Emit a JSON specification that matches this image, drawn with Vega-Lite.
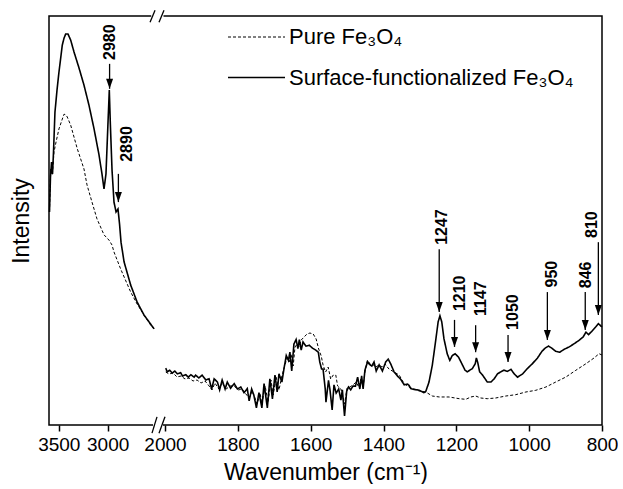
{
  "$schema": "https://vega.github.io/schema/vega-lite/v6.json",
  "width": 553,
  "height": 409,
  "padding": {"left": 10, "top": 8, "right": 0, "bottom": 0},
  "background": "white",
  "config": {
    "font": "Liberation Sans",
    "view": {"stroke": "black", "strokeWidth": 1.5},
    "axis": {"grid": false, "labelColor": "black", "titleColor": "black", "titleFontWeight": "normal"}
  },
  "layer": [
    {
      "data": {"values": [
        {"series":"func","seg":"L","wn":3595,"I":52.1},{"series":"func","seg":"L","wn":3585,"I":60.6},{"series":"func","seg":"L","wn":3574,"I":64.3},{"series":"func","seg":"L","wn":3564,"I":61.4},{"series":"func","seg":"L","wn":3554,"I":66.7},{"series":"func","seg":"L","wn":3539,"I":76.5},{"series":"func","seg":"L","wn":3518,"I":81.9},{"series":"func","seg":"L","wn":3498,"I":86.3},{"series":"func","seg":"L","wn":3464,"I":92.9},{"series":"func","seg":"L","wn":3446,"I":94.6},{"series":"func","seg":"L","wn":3429,"I":95.6},{"series":"func","seg":"L","wn":3406,"I":95.6},{"series":"func","seg":"L","wn":3378,"I":94.1},{"series":"func","seg":"L","wn":3344,"I":91.2},{"series":"func","seg":"L","wn":3293,"I":87.3},{"series":"func","seg":"L","wn":3242,"I":83.1},{"series":"func","seg":"L","wn":3191,"I":78.2},{"series":"func","seg":"L","wn":3139,"I":72.4},{"series":"func","seg":"L","wn":3088,"I":66.0},{"series":"func","seg":"L","wn":3058,"I":61.4},{"series":"func","seg":"L","wn":3037,"I":57.7},{"series":"func","seg":"L","wn":3017,"I":61.4},{"series":"func","seg":"L","wn":2996,"I":74.1},{"series":"func","seg":"L","wn":2983,"I":81.9},{"series":"func","seg":"L","wn":2973,"I":74.1},{"series":"func","seg":"L","wn":2955,"I":62.3},{"series":"func","seg":"L","wn":2935,"I":54.5},{"series":"func","seg":"L","wn":2914,"I":52.1},{"series":"func","seg":"L","wn":2894,"I":52.8},{"series":"func","seg":"L","wn":2878,"I":49.1},{"series":"func","seg":"L","wn":2863,"I":44.7},{"series":"func","seg":"L","wn":2832,"I":39.9},{"series":"func","seg":"L","wn":2764,"I":34.2},{"series":"func","seg":"L","wn":2699,"I":30.1},{"series":"func","seg":"L","wn":2628,"I":26.9},{"series":"func","seg":"L","wn":2576,"I":25.2},{"series":"func","seg":"L","wn":2525,"I":23.5},
        {"series":"pure","seg":"L","wn":3595,"I":52.1},{"series":"pure","seg":"L","wn":3583,"I":62.6},{"series":"pure","seg":"L","wn":3566,"I":61.1},{"series":"pure","seg":"L","wn":3549,"I":66.7},{"series":"pure","seg":"L","wn":3528,"I":69.2},{"series":"pure","seg":"L","wn":3498,"I":72.4},{"series":"pure","seg":"L","wn":3464,"I":74.8},{"series":"pure","seg":"L","wn":3446,"I":76.0},{"series":"pure","seg":"L","wn":3426,"I":75.8},{"series":"pure","seg":"L","wn":3413,"I":75.3},{"series":"pure","seg":"L","wn":3378,"I":73.3},{"series":"pure","seg":"L","wn":3310,"I":67.5},{"series":"pure","seg":"L","wn":3242,"I":62.6},{"series":"pure","seg":"L","wn":3211,"I":58.7},{"series":"pure","seg":"L","wn":3160,"I":54.5},{"series":"pure","seg":"L","wn":3109,"I":50.4},{"series":"pure","seg":"L","wn":3037,"I":46.5},{"series":"pure","seg":"L","wn":2986,"I":45.2},{"series":"pure","seg":"L","wn":2955,"I":44.0},{"series":"pure","seg":"L","wn":2935,"I":42.3},{"series":"pure","seg":"L","wn":2866,"I":38.1},{"series":"pure","seg":"L","wn":2764,"I":32.5},{"series":"pure","seg":"L","wn":2699,"I":29.6},{"series":"pure","seg":"L","wn":2628,"I":26.9},{"series":"pure","seg":"L","wn":2559,"I":24.4},{"series":"pure","seg":"L","wn":2525,"I":23.5},
        {"series":"func","seg":"R","wn":1998,"I":13.9},{"series":"func","seg":"R","wn":1994,"I":13.0},{"series":"func","seg":"R","wn":1987,"I":13.4},{"series":"func","seg":"R","wn":1980,"I":12.7},{"series":"func","seg":"R","wn":1973,"I":13.2},{"series":"func","seg":"R","wn":1966,"I":12.5},{"series":"func","seg":"R","wn":1957,"I":12.8},{"series":"func","seg":"R","wn":1952,"I":12.0},{"series":"func","seg":"R","wn":1943,"I":12.3},{"series":"func","seg":"R","wn":1936,"I":11.7},{"series":"func","seg":"R","wn":1929,"I":12.3},{"series":"func","seg":"R","wn":1920,"I":11.7},{"series":"func","seg":"R","wn":1916,"I":12.2},{"series":"func","seg":"R","wn":1907,"I":11.5},{"series":"func","seg":"R","wn":1898,"I":12.2},{"series":"func","seg":"R","wn":1888,"I":11.0},{"series":"func","seg":"R","wn":1879,"I":11.3},{"series":"func","seg":"R","wn":1872,"I":8.8},{"series":"func","seg":"R","wn":1865,"I":11.3},{"series":"func","seg":"R","wn":1856,"I":10.5},{"series":"func","seg":"R","wn":1850,"I":8.6},{"series":"func","seg":"R","wn":1843,"I":11.0},{"series":"func","seg":"R","wn":1835,"I":8.8},{"series":"func","seg":"R","wn":1829,"I":10.5},{"series":"func","seg":"R","wn":1820,"I":9.0},{"series":"func","seg":"R","wn":1810,"I":10.1},{"series":"func","seg":"R","wn":1801,"I":8.8},{"series":"func","seg":"R","wn":1792,"I":9.3},{"series":"func","seg":"R","wn":1783,"I":7.9},{"series":"func","seg":"R","wn":1774,"I":8.9},{"series":"func","seg":"R","wn":1769,"I":5.9},{"series":"func","seg":"R","wn":1762,"I":8.8},{"series":"func","seg":"R","wn":1756,"I":7.3},{"series":"func","seg":"R","wn":1749,"I":4.2},{"series":"func","seg":"R","wn":1742,"I":7.9},{"series":"func","seg":"R","wn":1734,"I":4.2},{"series":"func","seg":"R","wn":1728,"I":10.1},{"series":"func","seg":"R","wn":1719,"I":4.2},{"series":"func","seg":"R","wn":1712,"I":11.3},{"series":"func","seg":"R","wn":1705,"I":6.4},{"series":"func","seg":"R","wn":1698,"I":12.2},{"series":"func","seg":"R","wn":1692,"I":8.1},{"series":"func","seg":"R","wn":1687,"I":12.5},{"series":"func","seg":"R","wn":1679,"I":10.5},{"series":"func","seg":"R","wn":1673,"I":13.9},{"series":"func","seg":"R","wn":1667,"I":17.0},{"series":"func","seg":"R","wn":1661,"I":15.8},{"series":"func","seg":"R","wn":1657,"I":17.8},{"series":"func","seg":"R","wn":1652,"I":13.2},{"series":"func","seg":"R","wn":1646,"I":19.8},{"series":"func","seg":"R","wn":1640,"I":20.9},{"series":"func","seg":"R","wn":1635,"I":18.7},{"series":"func","seg":"R","wn":1631,"I":20.9},{"series":"func","seg":"R","wn":1626,"I":18.3},{"series":"func","seg":"R","wn":1621,"I":20.3},{"series":"func","seg":"R","wn":1613,"I":19.3},{"series":"func","seg":"R","wn":1604,"I":19.5},{"series":"func","seg":"R","wn":1595,"I":18.8},{"series":"func","seg":"R","wn":1586,"I":18.3},{"series":"func","seg":"R","wn":1579,"I":17.8},{"series":"func","seg":"R","wn":1575,"I":15.4},{"series":"func","seg":"R","wn":1570,"I":13.7},{"series":"func","seg":"R","wn":1566,"I":13.7},{"series":"func","seg":"R","wn":1560,"I":8.8},{"series":"func","seg":"R","wn":1558,"I":5.6},{"series":"func","seg":"R","wn":1551,"I":10.9},{"series":"func","seg":"R","wn":1547,"I":8.6},{"series":"func","seg":"R","wn":1541,"I":3.7},{"series":"func","seg":"R","wn":1536,"I":9.8},{"series":"func","seg":"R","wn":1530,"I":7.8},{"series":"func","seg":"R","wn":1523,"I":8.8},{"series":"func","seg":"R","wn":1517,"I":6.1},{"series":"func","seg":"R","wn":1513,"I":8.6},{"series":"func","seg":"R","wn":1507,"I":2.2},{"series":"func","seg":"R","wn":1501,"I":8.3},{"series":"func","seg":"R","wn":1496,"I":9.3},{"series":"func","seg":"R","wn":1490,"I":8.6},{"series":"func","seg":"R","wn":1484,"I":9.5},{"series":"func","seg":"R","wn":1477,"I":9.5},{"series":"func","seg":"R","wn":1471,"I":11.7},{"series":"func","seg":"R","wn":1465,"I":8.8},{"series":"func","seg":"R","wn":1460,"I":12.0},{"series":"func","seg":"R","wn":1456,"I":8.8},{"series":"func","seg":"R","wn":1451,"I":13.4},{"series":"func","seg":"R","wn":1444,"I":15.4},{"series":"func","seg":"R","wn":1438,"I":14.8},{"series":"func","seg":"R","wn":1432,"I":14.4},{"series":"func","seg":"R","wn":1426,"I":15.4},{"series":"func","seg":"R","wn":1420,"I":13.2},{"series":"func","seg":"R","wn":1412,"I":14.7},{"series":"func","seg":"R","wn":1403,"I":13.2},{"series":"func","seg":"R","wn":1394,"I":15.4},{"series":"func","seg":"R","wn":1387,"I":16.1},{"series":"func","seg":"R","wn":1380,"I":14.9},{"series":"func","seg":"R","wn":1371,"I":13.0},{"series":"func","seg":"R","wn":1362,"I":12.0},{"series":"func","seg":"R","wn":1353,"I":11.2},{"series":"func","seg":"R","wn":1343,"I":9.8},{"series":"func","seg":"R","wn":1334,"I":10.0},{"series":"func","seg":"R","wn":1330,"I":9.7},{"series":"func","seg":"R","wn":1325,"I":8.9},{"series":"func","seg":"R","wn":1316,"I":8.7},{"series":"func","seg":"R","wn":1302,"I":8.5},{"series":"func","seg":"R","wn":1289,"I":7.9},{"series":"func","seg":"R","wn":1284,"I":8.2},{"series":"func","seg":"R","wn":1275,"I":10.5},{"series":"func","seg":"R","wn":1266,"I":14.6},{"series":"func","seg":"R","wn":1256,"I":21.1},{"series":"func","seg":"R","wn":1250,"I":25.2},{"series":"func","seg":"R","wn":1245,"I":26.7},{"series":"func","seg":"R","wn":1240,"I":25.2},{"series":"func","seg":"R","wn":1234,"I":21.1},{"series":"func","seg":"R","wn":1225,"I":17.4},{"series":"func","seg":"R","wn":1218,"I":15.8},{"series":"func","seg":"R","wn":1211,"I":17.0},{"series":"func","seg":"R","wn":1203,"I":17.4},{"series":"func","seg":"R","wn":1194,"I":16.6},{"series":"func","seg":"R","wn":1185,"I":15.0},{"series":"func","seg":"R","wn":1176,"I":13.4},{"series":"func","seg":"R","wn":1170,"I":13.0},{"series":"func","seg":"R","wn":1163,"I":13.4},{"series":"func","seg":"R","wn":1156,"I":13.8},{"series":"func","seg":"R","wn":1148,"I":15.0},{"series":"func","seg":"R","wn":1145,"I":16.4},{"series":"func","seg":"R","wn":1141,"I":15.2},{"series":"func","seg":"R","wn":1136,"I":13.0},{"series":"func","seg":"R","wn":1128,"I":12.2},{"series":"func","seg":"R","wn":1121,"I":11.3},{"series":"func","seg":"R","wn":1115,"I":10.5},{"series":"func","seg":"R","wn":1105,"I":10.5},{"series":"func","seg":"R","wn":1096,"I":11.3},{"series":"func","seg":"R","wn":1087,"I":12.5},{"series":"func","seg":"R","wn":1078,"I":13.0},{"series":"func","seg":"R","wn":1069,"I":13.4},{"series":"func","seg":"R","wn":1060,"I":13.1},{"series":"func","seg":"R","wn":1050,"I":13.6},{"series":"func","seg":"R","wn":1041,"I":12.5},{"series":"func","seg":"R","wn":1032,"I":11.7},{"series":"func","seg":"R","wn":1018,"I":12.5},{"series":"func","seg":"R","wn":1005,"I":13.8},{"series":"func","seg":"R","wn":991,"I":15.0},{"series":"func","seg":"R","wn":977,"I":16.4},{"series":"func","seg":"R","wn":965,"I":18.0},{"series":"func","seg":"R","wn":956,"I":18.8},{"series":"func","seg":"R","wn":947,"I":19.3},{"series":"func","seg":"R","wn":938,"I":18.8},{"series":"func","seg":"R","wn":927,"I":18.0},{"series":"func","seg":"R","wn":916,"I":17.8},{"series":"func","seg":"R","wn":904,"I":18.5},{"series":"func","seg":"R","wn":890,"I":19.1},{"series":"func","seg":"R","wn":876,"I":19.9},{"series":"func","seg":"R","wn":863,"I":20.7},{"series":"func","seg":"R","wn":852,"I":21.5},{"series":"func","seg":"R","wn":844,"I":22.7},{"series":"func","seg":"R","wn":837,"I":22.1},{"series":"func","seg":"R","wn":828,"I":22.9},{"series":"func","seg":"R","wn":817,"I":24.0},{"series":"func","seg":"R","wn":810,"I":24.8},{"series":"func","seg":"R","wn":803,"I":24.2},{"series":"func","seg":"R","wn":800,"I":24.0},
        {"series":"pure","seg":"R","wn":1998,"I":12.96},{"series":"pure","seg":"R","wn":1989,"I":12.47},{"series":"pure","seg":"R","wn":1978,"I":12.71},{"series":"pure","seg":"R","wn":1967,"I":11.74},{"series":"pure","seg":"R","wn":1956,"I":11.98},{"series":"pure","seg":"R","wn":1945,"I":11.25},{"series":"pure","seg":"R","wn":1934,"I":11.49},{"series":"pure","seg":"R","wn":1923,"I":10.76},{"series":"pure","seg":"R","wn":1912,"I":11.0},{"series":"pure","seg":"R","wn":1901,"I":10.27},{"series":"pure","seg":"R","wn":1890,"I":10.76},{"series":"pure","seg":"R","wn":1879,"I":9.54},{"series":"pure","seg":"R","wn":1871,"I":8.56},{"series":"pure","seg":"R","wn":1863,"I":10.27},{"series":"pure","seg":"R","wn":1852,"I":8.8},{"series":"pure","seg":"R","wn":1843,"I":10.27},{"series":"pure","seg":"R","wn":1832,"I":8.8},{"series":"pure","seg":"R","wn":1821,"I":9.54},{"series":"pure","seg":"R","wn":1810,"I":9.54},{"series":"pure","seg":"R","wn":1799,"I":8.56},{"series":"pure","seg":"R","wn":1788,"I":8.8},{"series":"pure","seg":"R","wn":1780,"I":7.82},{"series":"pure","seg":"R","wn":1769,"I":6.6},{"series":"pure","seg":"R","wn":1761,"I":8.31},{"series":"pure","seg":"R","wn":1753,"I":6.6},{"series":"pure","seg":"R","wn":1747,"I":5.13},{"series":"pure","seg":"R","wn":1739,"I":7.82},{"series":"pure","seg":"R","wn":1734,"I":5.13},{"series":"pure","seg":"R","wn":1725,"I":9.54},{"series":"pure","seg":"R","wn":1717,"I":5.62},{"series":"pure","seg":"R","wn":1709,"I":11.0},{"series":"pure","seg":"R","wn":1703,"I":7.33},{"series":"pure","seg":"R","wn":1695,"I":11.74},{"series":"pure","seg":"R","wn":1687,"I":8.56},{"series":"pure","seg":"R","wn":1679,"I":11.98},{"series":"pure","seg":"R","wn":1673,"I":13.94},{"series":"pure","seg":"R","wn":1665,"I":16.38},{"series":"pure","seg":"R","wn":1659,"I":15.4},{"series":"pure","seg":"R","wn":1654,"I":17.36},{"series":"pure","seg":"R","wn":1648,"I":14.43},{"series":"pure","seg":"R","wn":1643,"I":19.07},{"series":"pure","seg":"R","wn":1637,"I":19.8},{"series":"pure","seg":"R","wn":1632,"I":19.07},{"series":"pure","seg":"R","wn":1626,"I":20.78},{"series":"pure","seg":"R","wn":1618,"I":21.52},{"series":"pure","seg":"R","wn":1610,"I":22.25},{"series":"pure","seg":"R","wn":1602,"I":22.49},{"series":"pure","seg":"R","wn":1593,"I":22.25},{"series":"pure","seg":"R","wn":1585,"I":21.03},{"series":"pure","seg":"R","wn":1578,"I":18.58},{"series":"pure","seg":"R","wn":1571,"I":16.87},{"series":"pure","seg":"R","wn":1566,"I":14.67},{"series":"pure","seg":"R","wn":1559,"I":12.96},{"series":"pure","seg":"R","wn":1552,"I":14.18},{"series":"pure","seg":"R","wn":1545,"I":11.25},{"series":"pure","seg":"R","wn":1538,"I":12.22},{"series":"pure","seg":"R","wn":1531,"I":12.22},{"series":"pure","seg":"R","wn":1526,"I":9.54},{"series":"pure","seg":"R","wn":1517,"I":8.8},{"series":"pure","seg":"R","wn":1512,"I":7.09},{"series":"pure","seg":"R","wn":1507,"I":5.13},{"series":"pure","seg":"R","wn":1500,"I":9.05},{"series":"pure","seg":"R","wn":1492,"I":9.29},{"series":"pure","seg":"R","wn":1484,"I":9.78},{"series":"pure","seg":"R","wn":1475,"I":10.51},{"series":"pure","seg":"R","wn":1468,"I":9.29},{"series":"pure","seg":"R","wn":1462,"I":11.25},{"series":"pure","seg":"R","wn":1456,"I":9.29},{"series":"pure","seg":"R","wn":1451,"I":12.96},{"series":"pure","seg":"R","wn":1444,"I":15.89},{"series":"pure","seg":"R","wn":1437,"I":14.91},{"series":"pure","seg":"R","wn":1431,"I":14.91},{"series":"pure","seg":"R","wn":1421,"I":14.18},{"series":"pure","seg":"R","wn":1412,"I":14.67},{"series":"pure","seg":"R","wn":1404,"I":14.18},{"series":"pure","seg":"R","wn":1396,"I":14.91},{"series":"pure","seg":"R","wn":1385,"I":13.69},{"series":"pure","seg":"R","wn":1371,"I":12.96},{"series":"pure","seg":"R","wn":1357,"I":12.22},{"series":"pure","seg":"R","wn":1346,"I":10.51},{"series":"pure","seg":"R","wn":1338,"I":9.78},{"series":"pure","seg":"R","wn":1330,"I":9.29},{"series":"pure","seg":"R","wn":1316,"I":8.8},{"series":"pure","seg":"R","wn":1302,"I":8.31},{"series":"pure","seg":"R","wn":1284,"I":8.07},{"series":"pure","seg":"R","wn":1266,"I":7.09},{"series":"pure","seg":"R","wn":1247,"I":6.85},{"series":"pure","seg":"R","wn":1220,"I":6.85},{"series":"pure","seg":"R","wn":1192,"I":6.43},{"series":"pure","seg":"R","wn":1174,"I":6.28},{"series":"pure","seg":"R","wn":1160,"I":6.85},{"series":"pure","seg":"R","wn":1147,"I":7.09},{"series":"pure","seg":"R","wn":1133,"I":6.6},{"series":"pure","seg":"R","wn":1115,"I":6.43},{"series":"pure","seg":"R","wn":1092,"I":6.6},{"series":"pure","seg":"R","wn":1064,"I":7.09},{"series":"pure","seg":"R","wn":1037,"I":7.41},{"series":"pure","seg":"R","wn":1009,"I":8.07},{"series":"pure","seg":"R","wn":982,"I":8.48},{"series":"pure","seg":"R","wn":954,"I":9.29},{"series":"pure","seg":"R","wn":927,"I":10.51},{"series":"pure","seg":"R","wn":899,"I":11.74},{"series":"pure","seg":"R","wn":872,"I":13.37},{"series":"pure","seg":"R","wn":844,"I":14.99},{"series":"pure","seg":"R","wn":822,"I":16.38},{"series":"pure","seg":"R","wn":808,"I":17.43},{"series":"pure","seg":"R","wn":800,"I":17.11}
      ]},
      "mark": {"type": "line", "color": "black", "interpolate": "linear"},
      "encoding": {
        "x": {"field": "wn", "type": "quantitative",
          "scale": {"domain": [3600, 2500, 2000, 800], "range": [0, 107.5, 116, 553], "zero": false, "nice": false},
          "axis": {"title": "Wavenumber (cm⁻¹)", "titleFontSize": 23, "titlePadding": 7,
            "values": [3500, 3250, 3000, 2750, 2000, 1900, 1800, 1700, 1600, 1500, 1400, 1300, 1200, 1100, 1000, 900, 800],
            "format": "d",
            "labelExpr": "indexof([3500,3000,2000,1800,1600,1400,1200,1000,800], datum.value) >= 0 ? datum.label : ''",
            "labelOverlap": false, "labelFontSize": 19, "labelPadding": 4, "labelFlush": false,
            "domain": false, "ticks": true, "tickSize": 6, "tickWidth": 1.5, "tickColor": "black"}},
        "y": {"field": "I", "type": "quantitative",
          "scale": {"domain": [0, 100], "zero": false, "nice": false},
          "axis": {"title": "Intensity", "titleFontSize": 23, "titlePadding": 16, "labels": false, "ticks": false, "domain": false}},
        "detail": {"field": "seg"},
        "strokeDash": {"field": "series", "type": "nominal",
          "scale": {"domain": ["pure", "func"], "range": [[3, 2], [1, 0]]},
          "legend": {"orient": "none", "legendX": 178, "legendY": -8, "title": null, "padding": 0,
            "symbolType": "stroke", "symbolSize": 3249, "symbolStrokeWidth": 1.3, "symbolStrokeColor": "black",
            "labelFontSize": 22, "labelOffset": 3, "labelColor": "black", "labelLimit": 0, "rowPadding": -51,
            "labelExpr": "datum.value == 'pure' ? 'Pure Fe₃O₄' : 'Surface-functionalized Fe₃O₄'"}},
        "strokeWidth": {"field": "series", "type": "nominal",
          "scale": {"domain": ["pure", "func"], "range": [1, 1.6]}, "legend": null}
      }
    },
    {
      "data": {"values": [
        {"x": 2554, "x2": 2088, "y": 100},
        {"x": 2536, "x2": 2118, "y": 0}
      ]},
      "mark": {"type": "rule", "color": "white", "strokeWidth": 4},
      "encoding": {
        "x": {"field": "x", "type": "quantitative"},
        "x2": {"field": "x2"},
        "y": {"field": "y", "type": "quantitative"}
      }
    },
    {
      "data": {"values": [
        {"x": 2566, "y": 98.5, "x2": 2515, "y2": 101.4},
        {"x": 2353, "y": 98.5, "x2": 2059, "y2": 101.4},
        {"x": 2546, "y": -2, "x2": 2471, "y2": 2},
        {"x": 2353, "y": -2, "x2": 2000, "y2": 2}
      ]},
      "mark": {"type": "rule", "color": "black", "strokeWidth": 1.3},
      "encoding": {
        "x": {"field": "x", "type": "quantitative"},
        "x2": {"field": "x2"},
        "y": {"field": "y", "type": "quantitative"},
        "y2": {"field": "y2"}
      }
    },
    {
      "data": {"name": "ann", "values": [
        {"label": "2980", "wn": 2980, "tw": 2980, "ti": 93.6, "top": 88.3, "tip": 82.2},
        {"label": "2890", "wn": 2890, "tw": 2802, "ti": 68.7, "top": 61.4, "tip": 54.5},
        {"label": "1247", "wn": 1247, "tw": 1239, "ti": 48.4, "top": 43.0, "tip": 27.6},
        {"label": "1210", "wn": 1205, "tw": 1190, "ti": 32.2, "top": 25.7, "tip": 19.1},
        {"label": "1147", "wn": 1147, "tw": 1133, "ti": 30.9, "top": 24.4, "tip": 17.8},
        {"label": "1050", "wn": 1058, "tw": 1045, "ti": 27.6, "top": 22.0, "tip": 15.4},
        {"label": "950", "wn": 950, "tw": 937, "ti": 36.9, "top": 32.5, "tip": 20.8},
        {"label": "846", "wn": 846, "tw": 844, "ti": 36.7, "top": 32.5, "tip": 23.2},
        {"label": "810", "wn": 810, "tw": 827, "ti": 49.0, "top": 44.7, "tip": 26.9}
      ]},
      "layer": [
        {
          "mark": {"type": "text", "angle": 270, "align": "center", "baseline": "middle", "fontSize": 16, "fontWeight": "bold", "color": "black"},
          "encoding": {
            "x": {"field": "tw", "type": "quantitative"},
            "y": {"field": "ti", "type": "quantitative"},
            "text": {"field": "label"}
          }
        },
        {
          "mark": {"type": "rule", "color": "black", "strokeWidth": 1.3},
          "encoding": {
            "x": {"field": "wn", "type": "quantitative"},
            "y": {"field": "top", "type": "quantitative"},
            "y2": {"field": "tip"}
          }
        },
        {
          "mark": {"type": "point", "shape": "M-0.7,-2L0.7,-2L0,0Z", "size": 100, "filled": true, "color": "black", "opacity": 1, "strokeWidth": 0},
          "encoding": {
            "x": {"field": "wn", "type": "quantitative"},
            "y": {"field": "tip", "type": "quantitative"}
          }
        }
      ]
    }
  ]
}
